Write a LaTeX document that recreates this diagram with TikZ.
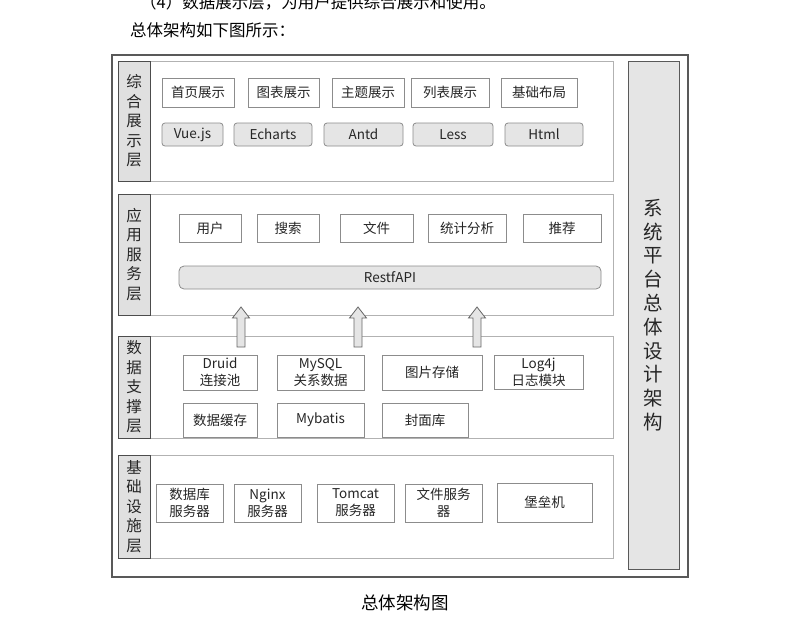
\documentclass[tikz,border=0pt]{standalone}
\usepackage{fontspec}
\setmainfont{Noto Sans CJK SC}
\usetikzlibrary{fit}
\begin{document}
\begin{tikzpicture}[x=1pt,y=-1pt,
  frame/.style={draw=black!65, line width=1.2pt},
  layer/.style={draw=black!30, line width=1pt, fill=white},
  strip/.style={draw=black!70, line width=1pt, fill=black!12, inner sep=0pt},
  box/.style={draw=black!45, line width=0.8pt, fill=white, inner sep=0pt},
  tech/.style={box, fill=black!10, rounded corners=3pt},
  every label/.style={align=center, text=black!85, inner sep=0pt, font=\fontsize{13.5}{17}\selectfont},
  vlabel/.style={align=center, text=black!85, font=\fontsize{15.5}{19.5}\selectfont},
  arr/.style={draw=black!60, line width=0.8pt, fill=black!10},
  captxt/.style={text=black, font=\fontsize{16.5}{18}\selectfont, inner sep=0pt}]
\useasboundingbox (0,0) rectangle (802,643);
\clip (0,0) rectangle (802,643);

% text cut at the top
\node[captxt, anchor=base west] (topline) at (140,8) {（4）数据展示层，为用户提供综合展示和使用。};
\node[captxt, anchor=west] (intro) at (130,30) {总体架构如下图所示：};

% outer frame
\node[frame, fit={(112,55) (688,577)}, inner sep=0pt] (outer) {};

% right tall box
\node[strip, draw=black!65, fill=black!10, fit={(628,61) (679,569)}] (sys) {};
\node[vlabel, font=\fontsize{19.5}{23.8}\selectfont] (systxt) at (sys.center) {系\\统\\平\\台\\总\\体\\设\\计\\架\\构};

% ---------- layer 1 ----------
\node[layer, fit={(118,61) (613,181)}, inner sep=0pt] (L1) {};
\node[strip, fit={(118,61) (150,181)}] (S1) {};
\node[vlabel] (T1) at (S1.center) {综\\合\\展\\示\\层};
\node[box, fit={(162,78) (234,107)}, label=center:首页展示] (b11) {};
\node[box, fit={(248,78) (319,107)}, label=center:图表展示] (b12) {};
\node[box, fit={(332,78) (404,107)}, label=center:主题展示] (b13) {};
\node[box, fit={(411,78) (489,107)}, label=center:列表展示] (b14) {};
\node[box, fit={(501,78) (577,107)}, label=center:基础布局] (b15) {};
\node[tech, fit={(162,123) (223,146)}, label=center:Vue.js] (t11) {};
\node[tech, fit={(234,123) (312,146)}, label=center:Echarts] (t12) {};
\node[tech, fit={(324,123) (403,146)}, label=center:Antd] (t13) {};
\node[tech, fit={(413,123) (493,146)}, label=center:Less] (t14) {};
\node[tech, fit={(505,123) (583,146)}, label=center:Html] (t15) {};

% ---------- layer 2 ----------
\node[layer, fit={(118,194) (613,315)}, inner sep=0pt] (L2) {};
\node[strip, fit={(118,194) (150,315)}] (S2) {};
\node[vlabel] (T2) at (S2.center) {应\\用\\服\\务\\层};
\node[box, fit={(179,214) (241,242)}, label=center:用户] (b21) {};
\node[box, fit={(257,214) (319,242)}, label=center:搜索] (b22) {};
\node[box, fit={(340,214) (413,242)}, label=center:文件] (b23) {};
\node[box, fit={(428,214) (506,242)}, label=center:统计分析] (b24) {};
\node[box, fit={(523,214) (601,242)}, label=center:推荐] (b25) {};
\node[tech, fit={(179,266) (601,289)}, rounded corners=5pt, label=center:RestfAPI] (api) {};

% ---------- layer 3 ----------
\node[layer, fit={(118,336) (613,438)}, inner sep=0pt] (L3) {};
\node[strip, fit={(118,336) (150,438)}] (S3) {};
\node[vlabel] (T3) at (S3.center) {数\\据\\支\\撑\\层};
\node[box, fit={(183,355) (257,390)}, label={center:{Druid\\连接池}}] (b31) {};
\node[box, fit={(277,355) (364,390)}, label={center:{MySQL\\关系数据}}] (b32) {};
\node[box, fit={(382,355) (482,390)}, label=center:图片存储] (b33) {};
\node[box, fit={(494,355) (583,389)}, label={center:{Log4j\\日志模块}}] (b34) {};
\node[box, fit={(183,403) (257,437)}, label=center:数据缓存] (b35) {};
\node[box, fit={(277,403) (364,437)}, label=center:Mybatis] (b36) {};
\node[box, fit={(382,403) (468,437)}, label=center:封面库] (b37) {};

% arrows from layer 3 up to layer 2
\coordinate (a1) at (241,347);
\coordinate (a2) at (358,347);
\coordinate (a3) at (477,347);
\foreach \a in {a1,a2,a3}{
  \draw[arr] (\a) ++(-4,0) -- ++(0,-29) -- ++(-4.5,0) -- ++(8.5,-11) -- ++(8.5,11) -- ++(-4.5,0) -- ++(0,29) -- cycle;
}

% ---------- layer 4 ----------
\node[layer, fit={(118,455) (613,558)}, inner sep=0pt] (L4) {};
\node[strip, fit={(118,455) (150,558)}] (S4) {};
\node[vlabel] (T4) at (S4.center) {基\\础\\设\\施\\层};
\node[box, fit={(156,484) (223,522)}, label={center:{数据库\\服务器}}] (b41) {};
\node[box, fit={(234,484) (301,522)}, label={center:{Nginx\\服务器}}] (b42) {};
\node[box, fit={(317,484) (394,522)}, label={center:{Tomcat\\服务器}}] (b43) {};
\node[box, fit={(405,484) (482,522)}, label={center:{文件服务\\器}}] (b44) {};
\node[box, fit={(497,483) (592,522)}, label=center:堡垒机] (b45) {};

% caption
\node[captxt, font=\fontsize{17.5}{20}\selectfont] (caption) at (405,603) {总体架构图};
\end{tikzpicture}
\end{document}
